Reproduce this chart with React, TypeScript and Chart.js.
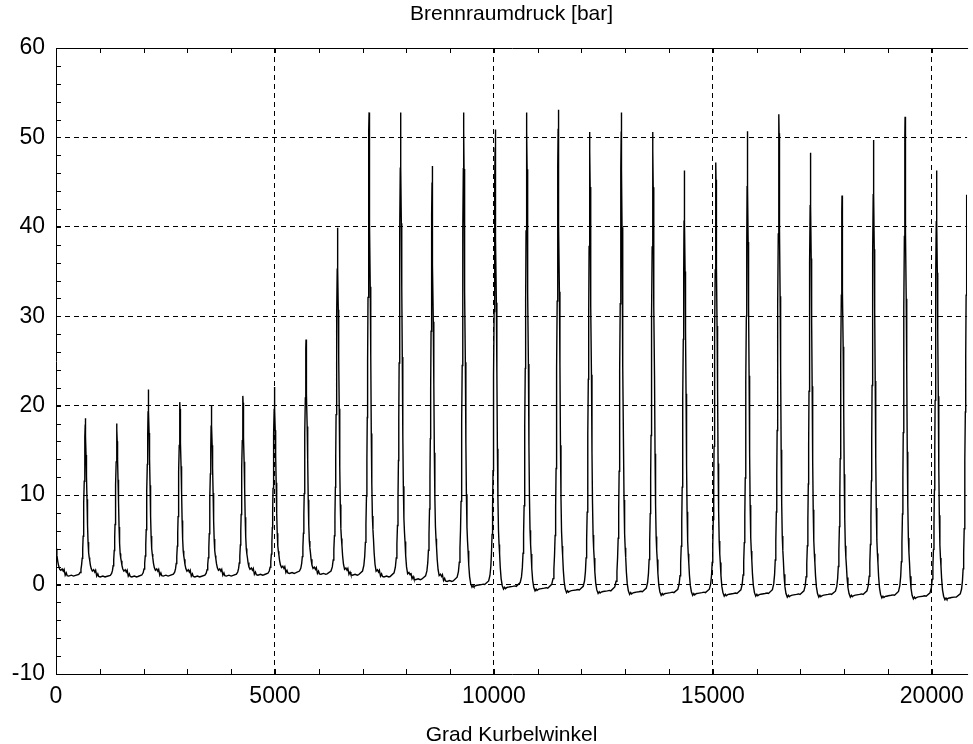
import React, { useEffect, useRef } from "react";
import { Chart, registerables } from "chart.js";

Chart.register(...registerables);

// ---- data ----
const peakAngles = [
  670, 1390, 2110, 2830, 3550, 4270, 4990, 5710, 6430, 7150, 7870, 8590, 9310, 10030,
  10750, 11470, 12190, 12910, 13630, 14350, 15070, 15790, 16510, 17230, 17950, 18670,
  19390, 20110, 20800,
];
const peakPressures = [
  18.6, 18.0, 21.8, 20.4, 20.0, 21.1, 22.1, 27.4, 39.9, 52.8, 52.8, 46.8, 52.8, 50.9,
  52.8, 53.1, 50.6, 52.8, 50.6, 46.3, 47.2, 50.7, 52.6, 48.3, 43.5, 49.7, 52.3, 46.3, 43.6,
];
// intake level just before each compression
const baseBefore = [
  1.0, 0.9, 0.9, 1.0, 0.9, 1.0, 1.1, 1.3, 1.2, 1.1, 0.9, 0.6, 0.4, 0.0, -0.2, -0.4, -0.6,
  -0.7, -0.8, -0.9, -0.9, -1.0, -1.0, -1.1, -1.1, -1.1, -1.2, -1.3, -1.4,
];
// normalized cycle shape around each peak (deg offset, fraction of peak rise)
const riseOffsets = [-240, -150, -120, -100, -85, -72, -60, -50, -42, -34, -25, -16, -8, -3, 0];
const riseFractions = [0, 0.008, 0.02, 0.04, 0.07, 0.11, 0.17, 0.25, 0.34, 0.46, 0.6, 0.75, 0.88, 0.96, 1];
const fallOffsets = [3, 8, 16, 26, 38, 50, 62, 75, 88, 100, 115, 135];
const fallFractions = [0.96, 0.88, 0.76, 0.62, 0.47, 0.3, 0.19, 0.12, 0.09, 0.07, 0.04, 0.015];
// gas-exchange ripple between cycles (deg after peak, bar relative to next intake level)
const wiggleOffsets = [160, 190, 215, 235, 260, 285, 305, 340, 400, 450];
const wiggleEarly = [0.6, 0.75, 0.5, 0.7, 0.05, 0.3, 0.0, -0.05, 0.05, -0.05];
const wiggleLate = [0.1, -0.3, -0.1, -0.25, -0.15, -0.1, -0.08, -0.05, 0.0, 0.05];
const lateFromCycle = 13;
// beginning of the record (tail of a previous expansion)
const headAngles = [0, 20, 40, 60, 85];
const headPressures = [4.0, 3.3, 2.6, 2.1, 1.7];
const headPeakAngle = -50;

const xTickValues = [0, 5000, 10000, 15000, 20000];
const yTickValues = [-10, 0, 10, 20, 30, 40, 50, 60];
const xMin = 0;
const xMax = 20806;
const yMin = -10;
const yMax = 60;
const xMinorStep = 1000;
const yMinorStep = 2;

const titleText = "Brennraumdruck [bar]";
const xTitleText = "Grad Kurbelwinkel";

function buildPoints() {
  const pts: { x: number; y: number }[] = [];
  for (let i = 0; i < headAngles.length; i++) pts.push({ x: headAngles[i], y: headPressures[i] });
  const addWiggle = (peakX: number, nextBase: number, late: boolean, limit: number) => {
    const w = late ? wiggleLate : wiggleEarly;
    for (let j = 0; j < wiggleOffsets.length; j++) {
      const x = peakX + wiggleOffsets[j];
      if (x < limit) pts.push({ x, y: nextBase + w[j] });
    }
  };
  addWiggle(headPeakAngle, baseBefore[0], false, peakAngles[0] + riseOffsets[0]);
  for (let k = 0; k < peakAngles.length; k++) {
    const P = peakPressures[k];
    const b = baseBefore[k];
    for (let j = 0; j < riseOffsets.length; j++) {
      pts.push({ x: peakAngles[k] + riseOffsets[j], y: b + riseFractions[j] * (P - b) });
    }
    if (k + 1 < peakAngles.length) {
      const late = k + 1 >= lateFromCycle;
      const nb = baseBefore[k + 1];
      const after = nb + (late ? wiggleLate[0] : wiggleEarly[0]);
      for (let j = 0; j < fallOffsets.length; j++) {
        pts.push({ x: peakAngles[k] + fallOffsets[j], y: after + fallFractions[j] * (P - after) });
      }
      addWiggle(peakAngles[k], nb, late, peakAngles[k + 1] + riseOffsets[0]);
    }
  }
  return pts;
}

const FONT = "'Liberation Sans', Arial, Helvetica, sans-serif";

const framePlugin = {
  id: "frameAndMinorTicks",
  afterDraw(chart: any) {
    const { ctx, chartArea: a, scales } = chart;
    const xs = scales.x;
    const ys = scales.y;
    ctx.save();
    ctx.strokeStyle = "#000";
    ctx.lineWidth = 1;
    ctx.setLineDash([]);
    ctx.beginPath();
    for (let v = xMin; v <= xMax; v += xMinorStep) {
      const px = Math.round(xs.getPixelForValue(v)) + 0.5;
      ctx.moveTo(px, a.bottom);
      ctx.lineTo(px, a.bottom - 5);
      ctx.moveTo(px, a.top);
      ctx.lineTo(px, a.top + 5);
    }
    for (let v = yMin; v <= yMax; v += yMinorStep) {
      const py = Math.round(ys.getPixelForValue(v)) + 0.5;
      ctx.moveTo(a.left, py);
      ctx.lineTo(a.left + 5, py);
    }
    ctx.stroke();
    const l = Math.round(a.left) + 0.5;
    const t = Math.round(ys.getPixelForValue(yMax)) + 0.5;
    const b = Math.round(ys.getPixelForValue(yMin)) + 0.5;
    ctx.beginPath();
    ctx.moveTo(a.right + 1, t);
    ctx.lineTo(l, t);
    ctx.lineTo(l, b);
    ctx.lineTo(a.right + 1, b);
    ctx.stroke();
    ctx.restore();
  },
};

export default function App() {
  const ref = useRef<HTMLCanvasElement | null>(null);
  useEffect(() => {
    if (!ref.current) return;
    const chart = new Chart(ref.current, {
      type: "line",
      data: {
        datasets: [
          {
            data: buildPoints(),
            borderColor: "#000",
            borderWidth: 1.4,
            pointRadius: 0,
            tension: 0,
            fill: false,
          },
        ],
      },
      options: {
        responsive: false,
        animation: false,
        devicePixelRatio: 1,
        layout: { padding: 0 },
        plugins: { legend: { display: false }, tooltip: { enabled: false } },
        scales: {
          x: {
            type: "linear",
            position: "bottom",
            min: xMin,
            max: xMax,
            afterBuildTicks: (s: any) => {
              s.ticks = xTickValues.map((v) => ({ value: v }));
            },
            afterFit: (s: any) => {
              s.height = 70;
            },
            ticks: {
              color: "#000",
              font: { family: FONT, size: 23 },
              padding: 9,
              maxRotation: 0,
              callback: (v: any) => String(v),
            },
            grid: { color: "#000", lineWidth: 1, drawTicks: false },
            border: { display: false, dash: [5, 4] },
            title: {
              display: true,
              text: xTitleText,
              color: "#000",
              font: { family: FONT, size: 21 },
              padding: { top: 0, bottom: -4 },
            },
          },
          x2: {
            type: "linear",
            position: "top",
            min: xMin,
            max: xMax,
            afterFit: (s: any) => {
              s.height = 48;
            },
            ticks: { display: false },
            grid: { display: false, drawTicks: false },
            border: { display: false },
            title: {
              display: true,
              text: titleText,
              color: "#000",
              font: { family: FONT, size: 21 },
              padding: { top: 2, bottom: 0 },
            },
          },
          y: {
            type: "linear",
            min: yMin,
            max: yMax,
            afterBuildTicks: (s: any) => {
              s.ticks = yTickValues.map((v) => ({ value: v }));
            },
            afterFit: (s: any) => {
              s.width = 56;
            },
            ticks: {
              color: "#000",
              font: { family: FONT, size: 23 },
              padding: 11,
              callback: (v: any) => String(v),
            },
            grid: { color: "#000", lineWidth: 1, drawTicks: false },
            border: { display: false, dash: [5, 4] },
          },
        },
      },
      plugins: [framePlugin],
    } as any);
    return () => chart.destroy();
  }, []);
  return (
    <div style={{ position: "absolute", left: 0, top: 0, width: 973, height: 744, background: "#fff" }}>
      <canvas ref={ref} width={973} height={744} style={{ display: "block" }} />
    </div>
  );
}
